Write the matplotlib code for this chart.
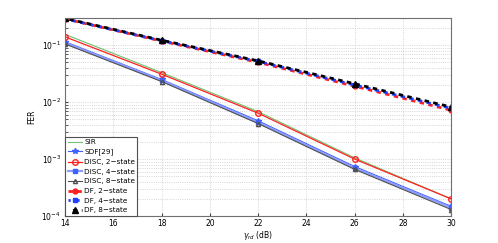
import matplotlib
matplotlib.use("Agg")
import matplotlib.pyplot as plt
import numpy as np

snr = [14, 18, 22, 26, 30]
sir = [0.155, 0.033, 0.0068, 0.00105, 0.0002]
sdf = [0.115, 0.025, 0.0047, 0.00074, 0.000148]
disc2 = [0.14, 0.031, 0.0064, 0.001, 0.0002]
disc4 = [0.11, 0.024, 0.0044, 0.00069, 0.00014]
disc8 = [0.105, 0.023, 0.0042, 0.00066, 0.00013]
df2 = [0.29, 0.118, 0.050, 0.019, 0.0072]
df4 = [0.29, 0.12, 0.052, 0.020, 0.0078]
df8 = [0.295, 0.122, 0.053, 0.021, 0.0082]
xticks = [14, 16, 18, 20, 22, 24, 26, 28, 30]

plt.rcParams['font.family'] = ['DejaVu Sans']
fig = plt.figure(figsize=(4.98, 2.43), dpi=100)
ax = fig.add_axes([0.1305, 0.111, 0.7755, 0.815])

ax.semilogy(snr, sir, color='#70c070', lw=0.8, label='SIR')
ax.semilogy(snr, sdf, color='#4060ff', lw=0.8, marker='*', ms=4, label='SDF[29]')
ax.semilogy(snr, disc2, color='#ff2020', lw=0.9, marker='o', ms=4, mfc='none', label='DISC, 2\u2212state')
ax.semilogy(snr, disc4, color='#8c9cff', lw=1.6, marker='s', ms=2.5, mfc='#4060ff', mec='#4060ff', label='DISC, 4\u2212state')
ax.semilogy(snr, disc8, color='#505050', lw=0.8, marker='^', ms=3, mfc='none', label='DISC, 8\u2212state')
ax.semilogy(snr, df2, color='#ff2020', lw=2, ls=(0, (1.6, 1.6)), marker='o', ms=3.5, label='DF, 2\u2212state')
ax.semilogy(snr, df4, color='#2040ff', lw=2, ls=(0.8, (1.6, 1.6)), marker='s', ms=3.5, label='DF, 4\u2212state')
ax.semilogy(snr, df8, color='black', lw=2, ls=(1.6, (1.6, 1.6)), marker='^', ms=4, label='DF, 8\u2212state')

ax.set_xlim(14, 30)
ax.set_ylim(1e-4, 0.3)
ax.set_xticks(xticks)
ax.set_xticklabels([str(t) for t in xticks])
ax.grid(True, which='major', ls=':', color='#c8c8c8', lw=0.6)
ax.grid(True, which='minor', axis='y', ls=':', color='#c8c8c8', lw=0.6)
ax.tick_params(labelsize=5.5, direction='in', length=2.5, which='both', colors='#404040',
               labelcolor='black')
ax.tick_params(axis='x', pad=2.5)
ax.tick_params(axis='y', pad=3)
for s in ax.spines.values():
    s.set_color('#707070')
    s.set_linewidth(0.8)
ax.set_xlabel(r'$\gamma_{rd}$ (dB)', fontsize=5.5, labelpad=0.3)
ax.set_ylabel('FER', fontsize=5.5, labelpad=4)

leg = ax.legend(loc='lower left', fontsize=5.2, borderaxespad=0.05, handlelength=2.0,
                handletextpad=0.3, labelspacing=0.5, borderpad=0.3,
                fancybox=False, framealpha=1)
leg.get_frame().set_edgecolor('#505050')
leg.get_frame().set_linewidth(0.8)

fig.savefig('out.png', dpi=100)
